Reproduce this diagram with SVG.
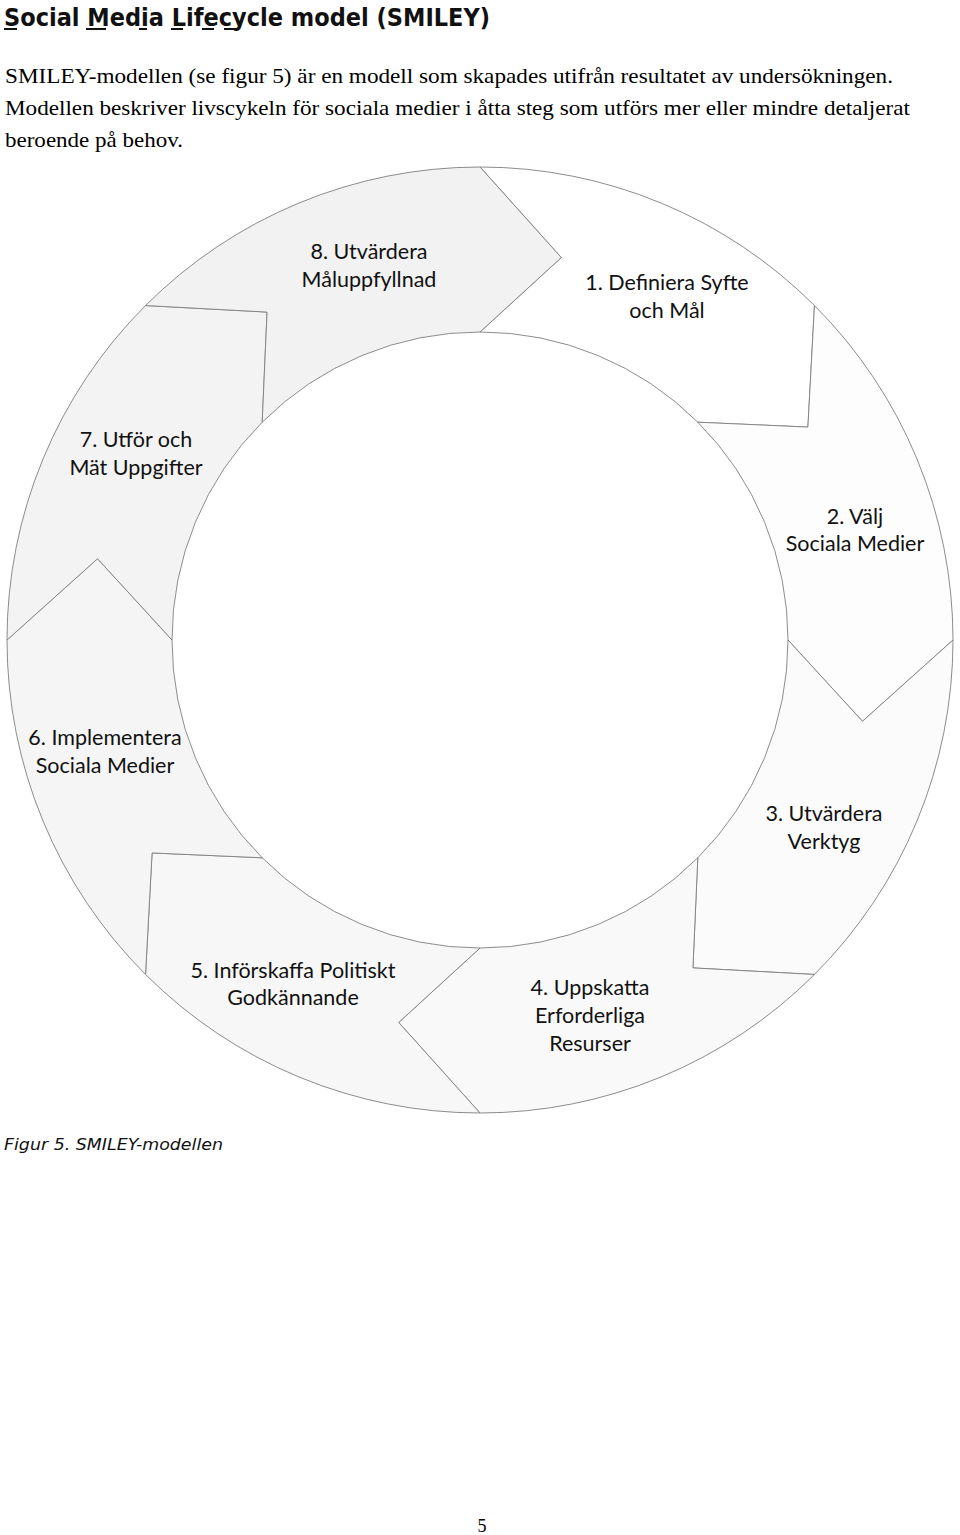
<svg xmlns="http://www.w3.org/2000/svg" width="960" height="1535" viewBox="0 0 960 1535">
<style>
.seg{stroke:#7f7f7f;stroke-width:0.9;stroke-linejoin:miter}
.lbl{font-family:Lato,"Open Sans","Liberation Sans",sans-serif;font-size:21.5px;fill:#111;text-anchor:middle}
.body{font-family:"Liberation Serif","Times New Roman",serif;font-size:21.5px;fill:#000}
.ul{stroke:#111;stroke-width:2}
</style>
<rect width="960" height="1535" fill="#fff"/>
<text x="4" y="26" font-family="'DejaVu Sans','Liberation Sans',sans-serif" font-weight="bold" font-size="24" fill="#111" textLength="486" lengthAdjust="spacingAndGlyphs">Social Media Lifecycle model (SMILEY)</text>
<g id="underlines">
<line class="ul" x1="4" y1="29" x2="17" y2="29"/>
<line class="ul" x1="86" y1="29" x2="106" y2="29"/>
<line class="ul" x1="139" y1="29" x2="147" y2="29"/>
<line class="ul" x1="171" y1="29" x2="183" y2="29"/>
<line class="ul" x1="202" y1="29" x2="214" y2="29"/>
<line class="ul" x1="224" y1="29" x2="237" y2="29"/>
</g>
<text class="body" x="5" y="83" textLength="888" lengthAdjust="spacingAndGlyphs">SMILEY-modellen (se figur 5) är en modell som skapades utifrån resultatet av undersökningen.</text>
<text class="body" x="5" y="115" textLength="905" lengthAdjust="spacingAndGlyphs">Modellen beskriver livscykeln för sociala medier i åtta steg som utförs mer eller mindre detaljerat</text>
<text class="body" x="5" y="147" textLength="178" lengthAdjust="spacingAndGlyphs">beroende på behov.</text>
<g id="seg1"><path class="seg" fill="#ffffff" d="M480,167 A473,473 0 0 1 814.46,305.54 L807.92,427.05 L697.79,422.21 A308,308 0 0 0 480,332 L561.29,257.54 Z"/>
<text class="lbl" x="667" y="290">1. Definiera Syfte</text><text class="lbl" x="667" y="318">och Mål</text></g>
<g id="seg2"><path class="seg" fill="#fdfdfd" d="M814.46,305.54 A473,473 0 0 1 953,640 L862.46,721.29 L788,640 A308,308 0 0 0 697.79,422.21 L807.92,427.05 Z"/>
<text class="lbl" x="855" y="524">2. Välj</text><text class="lbl" x="855" y="551">Sociala Medier</text></g>
<g id="seg3"><path class="seg" fill="#fbfbfb" d="M953,640 A473,473 0 0 1 814.46,974.46 L692.95,967.92 L697.79,857.79 A308,308 0 0 0 788,640 L862.46,721.29 Z"/>
<text class="lbl" x="824" y="821">3. Utvärdera</text><text class="lbl" x="824" y="849">Verktyg</text></g>
<g id="seg4"><path class="seg" fill="#f9f9f9" d="M814.46,974.46 A473,473 0 0 1 480,1113 L398.71,1022.46 L480,948 A308,308 0 0 0 697.79,857.79 L692.95,967.92 Z"/>
<text class="lbl" x="590" y="995">4. Uppskatta</text><text class="lbl" x="590" y="1023">Erforderliga</text><text class="lbl" x="590" y="1051">Resurser</text></g>
<g id="seg5"><path class="seg" fill="#f7f7f7" d="M480,1113 A473,473 0 0 1 145.54,974.46 L152.08,852.95 L262.21,857.79 A308,308 0 0 0 480,948 L398.71,1022.46 Z"/>
<text class="lbl" x="293" y="978">5. Införskaffa Politiskt</text><text class="lbl" x="293" y="1005">Godkännande</text></g>
<g id="seg6"><path class="seg" fill="#f5f5f5" d="M145.54,974.46 A473,473 0 0 1 7,640 L97.54,558.71 L172,640 A308,308 0 0 0 262.21,857.79 L152.08,852.95 Z"/>
<text class="lbl" x="105" y="745">6. Implementera</text><text class="lbl" x="105" y="773">Sociala Medier</text></g>
<g id="seg7"><path class="seg" fill="#f3f3f3" d="M7,640 A473,473 0 0 1 145.54,305.54 L267.05,312.08 L262.21,422.21 A308,308 0 0 0 172,640 L97.54,558.71 Z"/>
<text class="lbl" x="136" y="447">7. Utför och</text><text class="lbl" x="136" y="475">Mät Uppgifter</text></g>
<g id="seg8"><path class="seg" fill="#f2f2f2" d="M145.54,305.54 A473,473 0 0 1 480,167 L561.29,257.54 L480,332 A308,308 0 0 0 262.21,422.21 L267.05,312.08 Z"/>
<text class="lbl" x="369" y="259">8. Utvärdera</text><text class="lbl" x="369" y="287">Måluppfyllnad</text></g>
<g id="connectors"></g>
<text x="4" y="1150" font-family="'DejaVu Sans','Liberation Sans',sans-serif" font-style="italic" font-size="16" fill="#111" textLength="219" lengthAdjust="spacingAndGlyphs">Figur 5. SMILEY-modellen</text>
<text x="482" y="1532" font-family="'Liberation Serif',serif" font-size="18" text-anchor="middle" fill="#000">5</text>
</svg>
